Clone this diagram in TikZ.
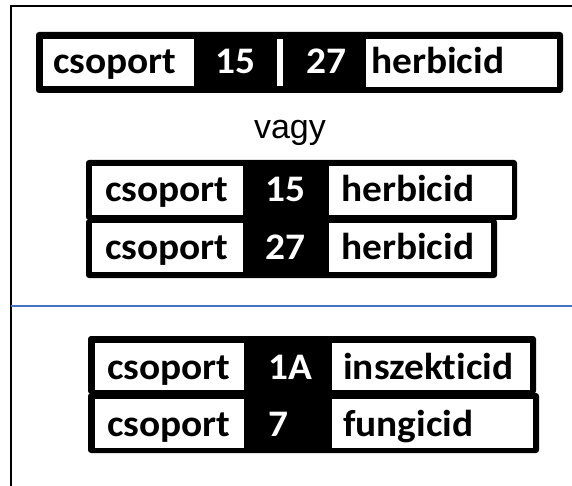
\documentclass[tikz,border=0pt]{standalone}
\usepackage{fontspec}
\newfontfamily\lblfont{Carlito}[FakeStretch=1.05, Ligatures=NoCommon]
\newfontfamily\vagyfont{Liberation Sans}
\definecolor{sepblue}{HTML}{4472C4}
\tikzset{
  blk/.style={fill=black, rounded corners=3pt},
  lbl/.style={font=\lblfont\bfseries\fontsize{37.5pt}{40pt}\selectfont, inner sep=0pt, anchor=base west},
  num/.style={lbl, text=white}
}
\begin{document}
\begin{tikzpicture}[x=1pt, y=-1pt]
\useasboundingbox (0,0) rectangle (572,486);
\draw [line width=2pt] (11,486) -- (11,6) -- (572,6);
\draw [sepblue, line width=2pt] (11,306) -- (572,306);
% combined label
\fill [blk] (36,32) rectangle (563,93);
\fill [white] (43,39) rectangle (194,86);
\fill [white] (366,39) rectangle (557,87);
\fill [white] (277,39) rectangle (283,86);
\node [lbl] (c1) at (53,74) {csoport};
\node [num] (n15) at (215,74) {15};
\node [num] (n27) at (306,74) {27};
\node [lbl] (h1) at (371,74) {herbicid};
\node [font=\vagyfont\fontsize{34pt}{38pt}\selectfont, inner sep=0pt, anchor=base] (vagy) at (290,139) {vagy};
% two labels
\fill [blk] (86,160) rectangle (517,220);
\fill [blk] (86,219) rectangle (497,278);
\fill [white] (92,166) rectangle (243,215);
\fill [white] (329,166) rectangle (512,215);
\fill [white] (92,223) rectangle (243,272);
\fill [white] (329,223) rectangle (491,272);
\node [lbl] (c2) at (105,202) {csoport};
\node [num] (n2a) at (265,202) {15};
\node [lbl] (h2) at (341,202) {herbicid};
\node [lbl] (c3) at (105,259) {csoport};
\node [num] (n2b) at (265,259) {27};
\node [lbl] (h3) at (341,259) {herbicid};
% other groups
\fill [blk] (88,336) rectangle (536,394);
\fill [blk] (88,393) rectangle (539,453);
\fill [white] (95,343) rectangle (244,390);
\fill [white] (332,343) rectangle (530,390);
\fill [white] (95,399) rectangle (244,448);
\fill [white] (332,399) rectangle (533,448);
\node [lbl] (c4) at (107,379) {csoport};
\node [num] (n1a) at (268,379) {1A};
\node [lbl] (ins) at (343,379) {inszekticid};
\node [lbl] (c5) at (107,436) {csoport};
\node [num] (n7) at (268,436) {7};
\node [lbl] (fun) at (343,436) {fungicid};
\end{tikzpicture}
\end{document}
